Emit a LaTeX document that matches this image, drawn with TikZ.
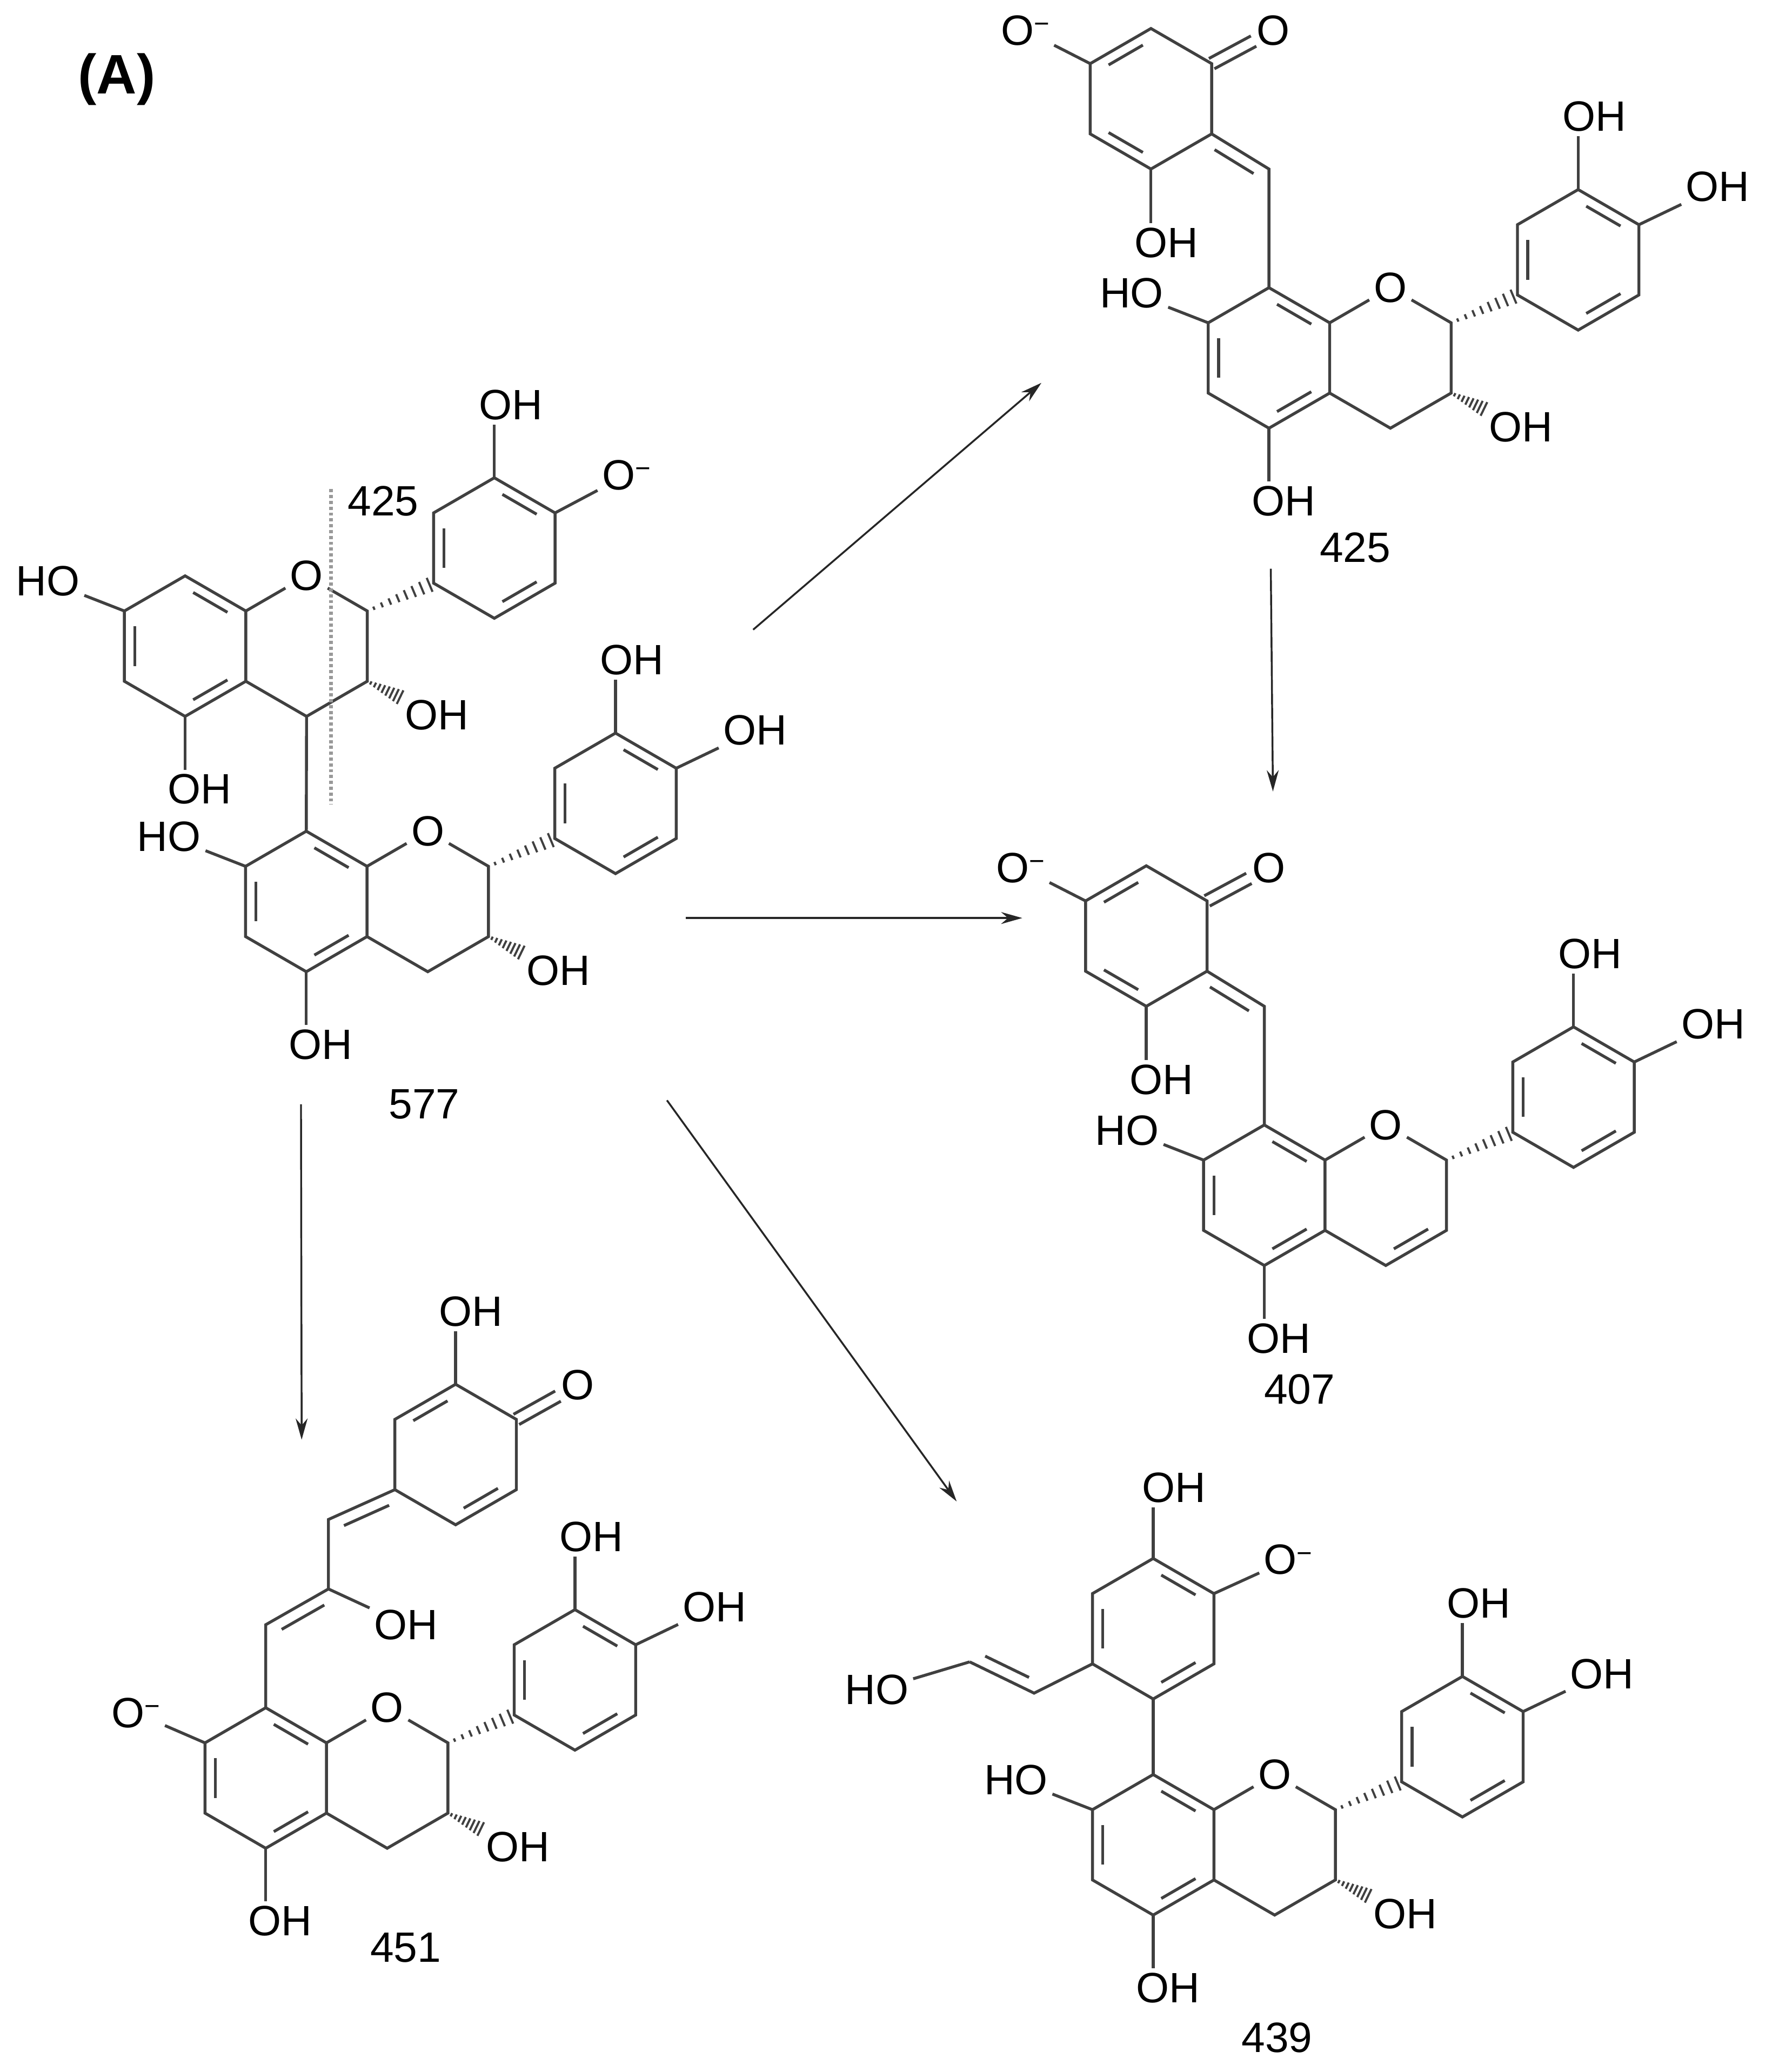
\documentclass[tikz,border=0pt]{standalone}
\usepackage{fontspec}
\setmainfont{Liberation Sans}
\usetikzlibrary{calc,arrows.meta}
\newcommand\Om{O\raisebox{0.55ex}{\fontsize{10}{10}\selectfont −}}
\newcommand\dbin[3]{\draw ($($(#1)!0.16!(#2)$)!0.17!(#3)$) -- ($($(#2)!0.16!(#1)$)!0.17!(#3)$);}
\newcommand\dbo[4]{\draw ($($(#1)!0.16!(#2)$)!4.5pt!#3:(#2)$) -- ($($(#2)!0.16!(#1)$)!4.5pt!#4:(#1)$);}
\newcommand\dco[2]{\draw ($(#1)!2.2pt!90:(#2)$) -- ($(#2)!2.2pt!-90:(#1)$);\draw ($(#1)!2.2pt!-90:(#2)$) -- ($(#2)!2.2pt!90:(#1)$);}
\newcommand\hashw[2]{\foreach \t in {0.1,0.22,0.34,0.46,0.58,0.7,0.82,0.94}{\pgfmathsetmacro\w{0.4+\t*2.6}\draw[line width=0.8pt] ($(#1)!\t!(#2)!\w pt!90:(#2)$) -- ($(#1)!\t!(#2)!\w pt!-90:(#2)$);}}
% #1 name #2 C8 position #3 C7 text #4 mode (0: 3-OH, 1: 3,4-ene) #5 4' text
\newcommand\flavan[5]{%
\begin{scope}[shift={(#2)},name prefix=#1-]
\coordinate (c8) at (0,0);
\coordinate (c8a) at (45.8,26.5);
\coordinate (c4a) at (45.8,79.5);
\coordinate (c5) at (0,106);
\coordinate (c6) at (-45.8,79.5);
\coordinate (c7) at (-45.8,26.5);
\coordinate (ca) at (0,53);
\node[atom] (o1) at (91.6,0) {O};
\coordinate (c2) at (137.4,26.5);
\coordinate (c3) at (137.4,79.5);
\coordinate (c4) at (91.6,106);
\coordinate (cc) at (91.6,53);
\coordinate (b1) at (187.4,5.5);
\coordinate (b2) at (187.4,-47.5);
\coordinate (b3) at (233.2,-74);
\coordinate (b4) at (279,-47.5);
\coordinate (b5) at (279,5.5);
\coordinate (b6) at (233.2,32);
\coordinate (cb) at (233.2,-21);
\draw (c8) -- (c8a) -- (c4a) -- (c5) -- (c6) -- (c7) -- cycle;
\draw (c8a) -- (o1) -- (c2) -- (c3) -- (c4) -- (c4a);
\draw (b1) -- (b2) -- (b3) -- (b4) -- (b5) -- (b6) -- cycle;
\dbin{c8}{c8a}{ca}\dbin{c7}{c6}{ca}\dbin{c5}{c4a}{ca}
\dbin{b1}{b2}{cb}\dbin{b3}{b4}{cb}\dbin{b5}{b6}{cb}
\hashw{c2}{b1}
\node[lab,anchor=east] (o7) at (-76,4) {#3};
\draw (c7) -- (o7);
\node[lab] (o5) at (11,161) {OH};
\draw (c5) -- (c5 |- o5.north);
\node[lab] (o3p) at (245.5,-129) {OH};
\draw (b3) -- (b3 |- o3p.south);
\node[lab,anchor=west] (o4p) at (311,-76) {#5};
\draw (b4) -- (o4p);
\ifnum#4=0
\node[lab] (o3) at (190,105) {OH};
\coordinate (h3) at ($(c3)!0.5!(o3)$);
\hashw{c3}{h3}
\else
\dbin{c3}{c4}{cc}
\fi
\end{scope}}
% quinone methide on C8
\newcommand\qm[2]{%
\begin{scope}[shift={(#2)},name prefix=#1-]
\coordinate (c8x) at (0,0);
\coordinate (ch) at (0,-89.5);
\coordinate (r1) at (-43.2,-116);
\coordinate (r2) at (-43.2,-169);
\coordinate (r3) at (-89,-195.5);
\coordinate (r4) at (-134.8,-169);
\coordinate (r5) at (-134.8,-116);
\coordinate (r6) at (-89,-89.5);
\coordinate (rc) at (-89,-142.5);
\draw (c8x) -- (ch) -- (r1);
\draw (r1) -- (r2) -- (r3) -- (r4) -- (r5) -- (r6) -- cycle;
\dbin{r4}{r3}{rc}\dbin{r5}{r6}{rc}
\dbo{r1}{ch}{-90}{90}
\node[lab] (oq) at (3.3,-194) {O};
\coordinate (oqe) at ($(r2)!0.68!(oq)$);
\dco{r2}{oqe}
\node[lab,anchor=east] (om) at (-162,-194) {\Om};
\draw (r4) -- (om);
\node[lab] (oh) at (-77.4,-34) {OH};
\draw (r6) -- (r6 |- oh.north);
\end{scope}}
\begin{document}
\begin{tikzpicture}[x=0.5pt,y=-0.5pt,line width=1.1pt,color=black!75,
  lab/.style={inner sep=1.2pt,text=black,font=\fontsize{16}{16}\selectfont},
  atom/.style={lab},
  rxn/.style={line width=0.7pt,color=black!85,-{Stealth[length=8pt,width=4.5pt]}},
  num/.style={text=black,font=\fontsize{16}{16}\selectfont}]
\useasboundingbox (0,0) rectangle (1336,1563);
\node[text=black,font=\fontsize{21}{21}\selectfont\bfseries] (title) at (88,60) {(A)};
% ---- 577 ----
\flavan{u}{139.6,434.4}{HO}{0}{\Om}
\flavan{l}{231,627}{HO}{0}{OH}
\draw (u-c4) -- (l-c8);
\coordinate (cutT) at (249.6,369);
\coordinate (cutB) at (249.6,607);
\draw[black!40,line width=1.3pt,dash pattern=on 1.2pt off 1pt] (cutT) -- (cutB);
\node[num] (n425a) at (289,378) {425};
\node[num] (n577) at (320,833) {577};
% ---- 425 ----
\flavan{p}{957,217}{HO}{0}{OH}
\qm{pq}{957,217}
\node[num] (n425) at (1022,413) {425};
% ---- 407 ----
\flavan{q}{953.5,848.6}{HO}{1}{OH}
\qm{qq}{953.5,848.6}
\node[num] (n407) at (980,1048) {407};
% ---- 451 ----
\flavan{r}{200.4,1288.2}{\Om}{0}{OH}
\begin{scope}[shift={(200.4,1288.2)},name prefix=rq-]
\coordinate (c8x) at (0,0);
\coordinate (cha) at (0,-62.6);
\coordinate (cb) at (47.3,-89.6);
\coordinate (chc) at (47.3,-142);
\coordinate (q1) at (97.4,-164.5);
\coordinate (q2) at (97.4,-217.5);
\coordinate (q3) at (143.2,-244);
\coordinate (q4) at (189,-217.5);
\coordinate (q5) at (189,-164.5);
\coordinate (q6) at (143.2,-138);
\coordinate (qc) at (143.2,-191);
\draw (c8x) -- (cha) -- (cb) -- (chc) -- (q1);
\draw (q1) -- (q2) -- (q3) -- (q4) -- (q5) -- (q6) -- cycle;
\dbo{cha}{cb}{-90}{90}
\dbo{chc}{q1}{-90}{90}
\dbin{q2}{q3}{qc}\dbin{q5}{q6}{qc}
\node[lab] (ohb) at (105.8,-62.6) {OH};
\draw (cb) -- (ohb);
\node[lab] (oht) at (154.8,-299) {OH};
\draw (q3) -- (q3 |- oht.south);
\node[lab] (oq) at (235.2,-243.3) {O};
\coordinate (oqe) at ($(q4)!0.68!(oq)$);
\dco{q4}{oqe}
\end{scope}
\node[num] (n451) at (306,1469) {451};
% ---- 439 ----
\flavan{s}{869.7,1338.6}{HO}{0}{OH}
\begin{scope}[shift={(869.7,1338.6)},name prefix=sa-]
\coordinate (c8x) at (0,0);
\coordinate (a1) at (0,-57);
\coordinate (a2) at (45.8,-83.5);
\coordinate (a3) at (45.8,-136.5);
\coordinate (a4) at (0,-163);
\coordinate (a5) at (-45.8,-136.5);
\coordinate (a6) at (-45.8,-83.5);
\coordinate (ac) at (0,-110);
\coordinate (v1) at (-89.8,-61.4);
\coordinate (v2) at (-138.4,-85);
\draw (c8x) -- (a1);
\draw (a1) -- (a2) -- (a3) -- (a4) -- (a5) -- (a6) -- cycle;
\dbin{a5}{a6}{ac}\dbin{a4}{a3}{ac}\dbin{a2}{a1}{ac}
\draw (a6) -- (v1) -- (v2);
\dbo{v1}{v2}{-90}{90}
\node[lab,anchor=east] (hov) at (-181,-64) {HO};
\draw (v2) -- (hov);
\node[lab] (oht) at (15.8,-216.3) {OH};
\draw (a4) -- (a4 |- oht.south);
\node[lab,anchor=west] (omr) at (80,-162) {\Om};
\draw (a3) -- (omr);
\end{scope}
\node[num] (n439) at (963,1537) {439};
% ---- arrows ----
\coordinate (s1) at (568,475); \coordinate (e1) at (785.4,288.8);
\coordinate (s2) at (517,692.5); \coordinate (e2) at (771,692.5);
\coordinate (s3) at (227,833); \coordinate (e3) at (227.5,1086);
\coordinate (s4) at (503,830); \coordinate (e4) at (721.5,1132.6);
\coordinate (s5) at (958.4,429); \coordinate (e5) at (960,597);
\draw[rxn] (s1) -- (e1);
\draw[rxn] (s2) -- (e2);
\draw[rxn] (s3) -- (e3);
\draw[rxn] (s4) -- (e4);
\draw[rxn] (s5) -- (e5);
\end{tikzpicture}
\end{document}
